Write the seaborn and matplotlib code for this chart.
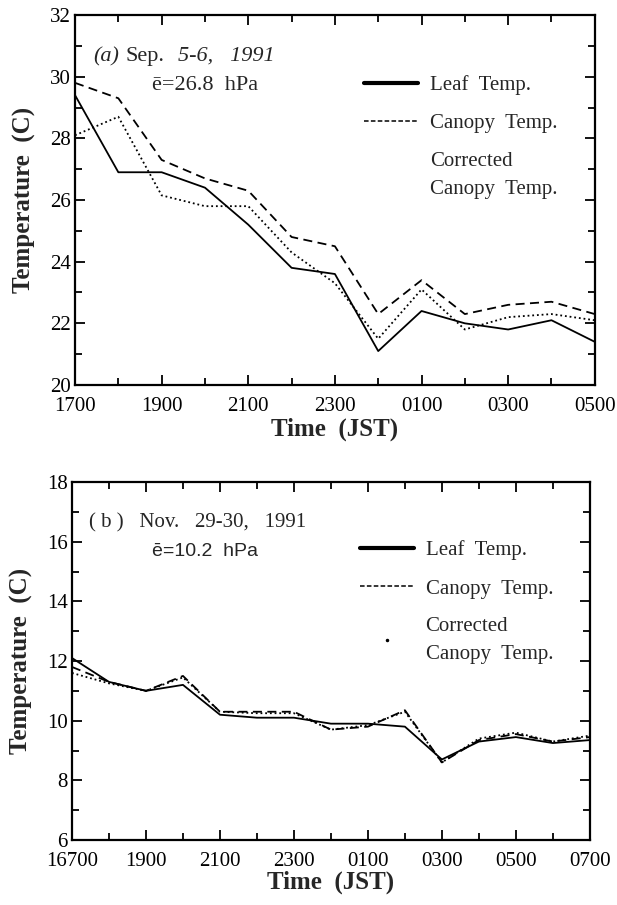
import numpy as np
import pandas as pd
import matplotlib
matplotlib.use("Agg")
import matplotlib.pyplot as plt
from matplotlib.lines import Line2D
from matplotlib.ticker import MultipleLocator
import seaborn as sns

# (a) Sep. 5-6, 1991 -- hourly readings 1700 -> 0500
times_a = ["1700", "1800", "1900", "2000", "2100", "2200", "2300",
           "0000", "0100", "0200", "0300", "0400", "0500"]
leaf_a = [29.4, 26.9, 26.9, 26.4, 25.2, 23.8, 23.6, 21.1, 22.4, 22.0, 21.8, 22.1, 21.4]
canopy_a = [29.8, 29.3, 27.3, 26.7, 26.3, 24.8, 24.5, 22.3, 23.4, 22.3, 22.6, 22.7, 22.3]
corrected_a = [28.1, 28.7, 26.15, 25.8, 25.8, 24.3, 23.3, 21.5, 23.1, 21.8, 22.2, 22.3, 22.1]
ticklabels_a = ["1700", "1900", "2100", "2300", "0100", "0300", "0500"]

# (b) Nov. 29-30, 1991 -- hourly readings 1700 -> 0700
times_b = ["1700", "1800", "1900", "2000", "2100", "2200", "2300", "0000",
           "0100", "0200", "0300", "0400", "0500", "0600", "0700"]
leaf_b = [12.1, 11.3, 11.0, 11.2, 10.2, 10.1, 10.1, 9.9, 9.9, 9.8, 8.7, 9.3, 9.45, 9.25, 9.35]
canopy_b = [11.8, 11.3, 11.0, 11.5, 10.3, 10.3, 10.3, 9.7, 9.8, 10.35, 8.6, 9.35, 9.55, 9.3, 9.45]
corrected_b = [11.6, 11.25, 11.0, 11.45, 10.3, 10.25, 10.25, 9.7, 9.85, 10.3, 8.6, 9.4, 9.6, 9.3, 9.5]
ticklabels_b = ["16700", "1900", "2100", "2300", "0100", "0300", "0500", "0700"]


def long_df(times, leaf, canopy, corrected):
    n = len(times)
    return pd.DataFrame({
        "hour": list(range(n)) * 3,
        "temp": leaf + canopy + corrected,
        "series": ["Leaf"] * n + ["Canopy"] * n + ["Corrected"] * n,
    })


sns.set_style("ticks")
plt.rcParams["font.family"] = ["Liberation Serif", "DejaVu Serif"]

fig = plt.figure(figsize=(6.17, 9.05), dpi=100)
ax1 = fig.add_axes([0.1216, 0.5746, 0.8424, 0.4088])
ax2 = fig.add_axes([0.1167, 0.0718, 0.8393, 0.3956])

dashes = {"Leaf": "", "Canopy": (5, 3), "Corrected": (1, 1.6)}


def draw(ax, df, n, ylim, ticklabels, xpad, xlabelpad):
    sns.lineplot(data=df, x="hour", y="temp", style="series", dashes=dashes,
                 color="black", linewidth=1.3, legend=False, ax=ax)
    ax.set_xlim(0, n - 1)
    ax.set_ylim(*ylim)
    ax.set_xticks(np.arange(0, n, 2))
    ax.set_xticklabels(ticklabels)
    ax.xaxis.set_minor_locator(MultipleLocator(1))
    ax.yaxis.set_major_locator(MultipleLocator(2))
    ax.yaxis.set_minor_locator(MultipleLocator(1))
    ax.tick_params(which="both", direction="in", right=True, top=True,
                   labelsize=15, width=1.3, colors="black", pad=3)
    ax.tick_params(axis="x", which="major", pad=xpad)
    ax.tick_params(which="major", length=7)
    ax.tick_params(which="minor", length=5)
    for s in ax.spines.values():
        s.set_linewidth(1.6)
        s.set_color("black")
    ax.set_xlabel("Time  (JST)", fontsize=18, fontweight="bold", labelpad=xlabelpad)
    ax.set_ylabel("Temperature  (C)", fontsize=18, fontweight="bold", labelpad=10)


draw(ax1, long_df(times_a, leaf_a, canopy_a, corrected_a), len(times_a), (20, 32),
     ticklabels_a, 9, 1)
draw(ax2, long_df(times_b, leaf_b, canopy_b, corrected_b), len(times_b), (6, 18),
     ticklabels_b, 8.5, 0)

# panel annotations
ax1.text(0.035, 0.888, "(a)", style="italic", fontsize=16, transform=ax1.transAxes, va="center")
ax1.text(0.098, 0.888, "Sep.", fontsize=16, transform=ax1.transAxes, va="center")
ax1.text(0.198, 0.888, "5-6,   1991", style="italic", fontsize=16, transform=ax1.transAxes, va="center")
ax1.text(0.148, 0.81, "ē=26.8  hPa", fontsize=16, transform=ax1.transAxes, va="center")

ax2.text(0.033, 0.886, "( b )   Nov.   29-30,   1991", fontsize=15, transform=ax2.transAxes, va="center")
ax2.text(0.154, 0.805, "ē=10.2  hPa", fontsize=14, family=["Liberation Sans", "DejaVu Sans"],
         transform=ax2.transAxes, va="center")

# legends
labels = ["Leaf  Temp.", "Canopy  Temp.", "Corrected\nCanopy  Temp."]
handles_a = [Line2D([], [], color="black", lw=3),
             Line2D([], [], color="black", lw=1.1, dashes=(3, 1.5)),
             Line2D([], [], linestyle="none")]
handles_b = [Line2D([], [], color="black", lw=3),
             Line2D([], [], color="black", lw=1.1, dashes=(3, 1.5)),
             Line2D([], [], color="black", linestyle="none", marker=".", markersize=3)]
for ax, handles in ((ax1, handles_a), (ax2, handles_b)):
    leg = ax.legend(handles, labels, loc="upper left", bbox_to_anchor=(0.54, 0.86),
                    frameon=False, fontsize=15, handlelength=2.6, handletextpad=0.55,
                    labelspacing=0.9, borderaxespad=0)
    for t in leg.get_texts():
        t.set_linespacing(1.6)

fig.savefig("out.png", dpi=100)
